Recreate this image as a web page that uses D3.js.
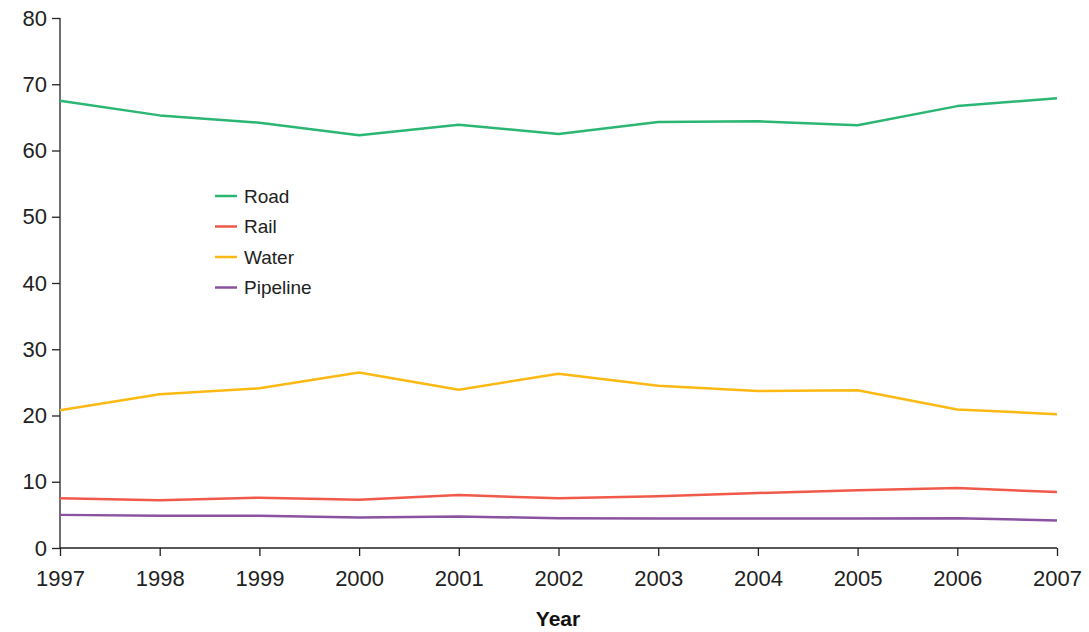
<!DOCTYPE html>
<html><head><meta charset="utf-8">
<script src="https://cdn.jsdelivr.net/npm/d3@7"></script>
<style>
body{margin:0;background:#fff;}
svg{display:block;font-family:"Liberation Sans",Arial,sans-serif;}
</style></head>
<body><svg id="c" width="1089" height="632"></svg>
<script>
const years = [1997,1998,1999,2000,2001,2002,2003,2004,2005,2006,2007];
const road = [67.5,65.3,64.2,62.3,63.9,62.5,64.3,64.4,63.8,66.7,67.9];
const rail = [7.5,7.2,7.6,7.3,8.0,7.5,7.8,8.3,8.7,9.05,8.45];
const water = [20.8,23.2,24.1,26.5,23.9,26.3,24.5,23.7,23.8,20.9,20.2];
const pipeline = [5.0,4.85,4.85,4.6,4.75,4.5,4.45,4.45,4.45,4.5,4.15];
const seriesNames = ["Road","Rail","Water","Pipeline"];
const seriesColors = ["#2bb673","#f15a4a","#fdb913","#8a52a0"];
const yTicks = [0,10,20,30,40,50,60,70,80];

const seriesValues = [road, rail, water, pipeline];
const svg = d3.select("#c");
const x = d3.scaleLinear().domain([1997,2007]).range([60,1057]);
const y = d3.scaleLinear().domain([0,80]).range([548,18]);
const axisColor = "#222";

const ya = svg.append("g").attr("transform","translate(60,0)")
  .call(d3.axisLeft(y).tickValues(yTicks).tickSize(8).tickPadding(5).tickFormat(d3.format("d")));
const xa = svg.append("g").attr("transform","translate(0,548)")
  .call(d3.axisBottom(x).tickValues(years).tickSize(8).tickPadding(14).tickFormat(d3.format("d")));
[ya,xa].forEach(a=>{
  a.select(".domain").attr("stroke",axisColor).attr("stroke-width",1.3);
  a.selectAll(".tick line").attr("stroke",axisColor).attr("stroke-width",1.3);
  a.selectAll(".tick text").attr("fill","#222").style("font-size","22px").style("font-family","'Liberation Sans',Arial,sans-serif");
});
ya.select(".domain").attr("d","M0,548V18");
xa.select(".domain").attr("d","M60,0H1057");

svg.append("text").attr("x",558).attr("y",626).attr("text-anchor","middle")
  .style("font-size","21px").style("font-weight","bold").attr("fill","#111").text("Year");

const line = d3.line().x((d,i)=>x(years[i])).y(d=>y(d));
seriesValues.forEach((vals,k)=>{
  svg.append("path").datum(vals).attr("d",line).attr("fill","none")
    .attr("stroke",seriesColors[k]).attr("stroke-width",2.5).attr("stroke-linejoin","round");
});

const leg = svg.append("g");
seriesNames.forEach((n,k)=>{
  const yy = 196 + k*30.5;
  leg.append("line").attr("x1",215).attr("x2",237).attr("y1",yy).attr("y2",yy)
    .attr("stroke",seriesColors[k]).attr("stroke-width",2.5);
  leg.append("text").attr("x",244).attr("y",yy).attr("dy","0.35em")
    .style("font-size","19px").attr("fill","#222").text(n);
});
</script></body></html>
